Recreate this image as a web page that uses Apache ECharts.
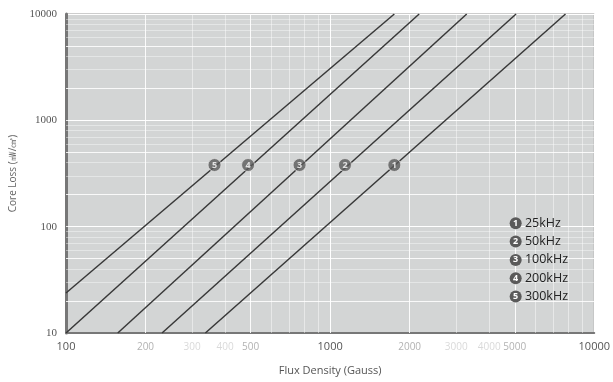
<!DOCTYPE html>
<html><head><meta charset="utf-8">
<script src="https://cdn.jsdelivr.net/npm/echarts@6/dist/echarts.min.js"></script>
<style>html,body{margin:0;padding:0;background:#fff}#c{width:613px;height:382px}</style>
</head><body><div id="c"></div>
<script>
const freqNames = ['25kHz', '50kHz', '100kHz', '200kHz', '300kHz'];
const markerNums = ['1', '2', '3', '4', '5'];
const lineStartX = [337, 231, 157, 100, 100];
const lineStartY = [10, 10, 10, 10, 23.8];
const lineEndX = [7780, 5058, 3289, 2173, 1750];
const lineEndY = [10000, 10000, 10000, 10000, 10000];
const markerX = [1750, 1138, 766, 489, 365];
const markerY = [380, 380, 380, 380, 380];
const xMinorLabeled = [200, 300, 400, 500, 2000, 3000, 4000, 5000];
const xGrid = [200, 300, 400, 500, 600, 700, 800, 900, 1000, 2000, 3000, 4000, 5000, 6000, 7000, 8000, 9000];
const yGrid = [20, 30, 40, 50, 60, 70, 80, 90, 100, 200, 300, 400, 500, 600, 700, 800, 900, 1000, 2000, 3000, 4000, 5000, 6000, 7000, 8000, 9000];

const chart = echarts.init(document.getElementById('c'), null, {renderer: 'canvas'});
const sans = '"Open Sans", "Noto Sans", sans-serif';

const lineSeries = freqNames.map((n, i) => ({
  name: n, type: 'line', symbol: 'none', silent: true,
  lineStyle: {color: '#383838', width: 1.5},
  itemStyle: {color: '#555'},
  data: [[lineStartX[i], lineStartY[i]], [lineEndX[i], lineEndY[i]]],
  z: 3
}));

const strong = v => { const m = Math.round(v / Math.pow(10, Math.floor(Math.log10(v)))); return m === 2 || m === 5 || m === 1; };

const gridSeries = {
  type: 'line', data: [], silent: true, z: 1,
  markLine: {
    silent: true, symbol: 'none', animation: false, z: 1,
    data: xGrid.map(v => ({
      xAxis: v,
      lineStyle: {color: '#fff', width: 1, type: 'solid', opacity: strong(v) ? 0.9 : 0.45},
      label: xMinorLabeled.includes(v) ? {show: true, position: 'start', formatter: String(v), color: '#aaa', fontFamily: sans, fontSize: 10, distance: 9} : {show: false}
    })).concat(yGrid.map(v => ({
      yAxis: v,
      lineStyle: {color: '#fff', width: 1, type: 'solid', opacity: strong(v) ? 0.85 : 0.4},
      label: {show: false}
    })))
  }
};

const markerSeries = {
  type: 'scatter', name: 'markers', symbol: 'circle', symbolSize: 13, z: 5,
  itemStyle: {color: '#5a5a5a', borderColor: '#e0e0e0', borderWidth: 1},
  label: {show: true, position: 'inside', color: '#fff', fontSize: 9, fontWeight: 'bold', fontFamily: sans,
    formatter: p => markerNums[p.dataIndex]},
  data: markerX.map((x, i) => [x, markerY[i]])
};

chart.setOption({
  animation: false,
  grid: {left: 63, right: 16, top: 14, bottom: 49, show: true, backgroundColor: '#d3d5d5', borderColor: '#9a9a9a', borderWidth: 1},
  xAxis: {
    type: 'log', logBase: 10, min: 100, max: 10000,
    name: 'Flux Density (Gauss)', nameLocation: 'middle', nameGap: 32,
    nameTextStyle: {color: '#555', fontFamily: sans, fontSize: 11},
    axisLine: {show: true, lineStyle: {color: '#777', width: 2}},
    axisTick: {show: false},
    splitLine: {show: true, lineStyle: {color: '#fff', width: 1}},
    axisLabel: {color: '#555', fontFamily: sans, fontSize: 11, margin: 8, formatter: v => String(v)}
  },
  yAxis: {
    type: 'log', logBase: 10, min: 10, max: 10000,
    name: 'Core Loss (㎽/㎤)', nameLocation: 'middle', nameGap: 48,
    nameTextStyle: {color: '#666', fontFamily: sans, fontSize: 10},
    axisLine: {show: true, lineStyle: {color: '#777', width: 3}},
    axisTick: {show: false},
    splitLine: {show: true, lineStyle: {color: '#fff', width: 1}},
    axisLabel: {color: '#555', fontFamily: '"Liberation Serif", "DejaVu Serif", serif', fontSize: 11, margin: 9, formatter: v => String(v)}
  },
  legend: {
    data: freqNames, orient: 'vertical', right: 40, bottom: 74, itemGap: 5.3,
    itemWidth: 0, itemHeight: 0, icon: 'circle', selectedMode: false,
    formatter: name => '{n|' + markerNums[freqNames.indexOf(name)] + '} ' + name,
    textStyle: {color: '#222', fontFamily: sans, fontSize: 12.5,
      rich: {n: {backgroundColor: '#5a5a5a', color: '#fff', borderRadius: 6, width: 12, height: 12, align: 'center', fontSize: 9, fontWeight: 'bold', fontFamily: sans, lineHeight: 12}}}
  },
  series: [gridSeries].concat(lineSeries, [markerSeries])
});
</script>
</body></html>
